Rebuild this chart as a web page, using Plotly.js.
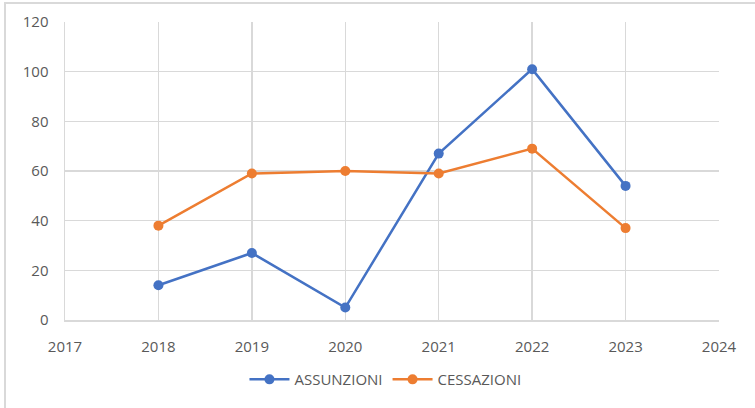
<!DOCTYPE html>
<html>
<head>
<meta charset="utf-8">
<script src="https://cdn.plot.ly/plotly-3.0.1.min.js"></script>
<style>
html,body{margin:0;padding:0;background:#fff;overflow:hidden;}
#frame{position:absolute;left:4px;top:2px;width:760px;height:420px;border-top:2px solid #d9d9d9;border-left:2px solid #d9d9d9;}
#chart{position:absolute;left:0;top:0;width:755px;height:408px;}
</style>
</head>
<body>
<div id="frame"></div>
<div id="chart"></div>
<script>
const years = [2018, 2019, 2020, 2021, 2022, 2023];
const assunzioni = [14, 27, 5, 67, 101, 54];
const cessazioni = [38, 59, 60, 59, 69, 37];
const xTicks = [2017, 2018, 2019, 2020, 2021, 2022, 2023, 2024];
const yTicks = [0, 20, 40, 60, 80, 100, 120];

const traces = [
  {x: years, y: assunzioni, name: 'ASSUNZIONI', type: 'scatter', mode: 'lines+markers',
   line: {color: '#4472C4', width: 2.5}, marker: {color: '#4472C4', size: 10}},
  {x: years, y: cessazioni, name: 'CESSAZIONI', type: 'scatter', mode: 'lines+markers',
   line: {color: '#ED7D31', width: 2.5}, marker: {color: '#ED7D31', size: 10}}
];

const layout = {
  width: 755, height: 408,
  margin: {l: 65, r: 36, t: 22, b: 86},
  paper_bgcolor: 'rgba(0,0,0,0)', plot_bgcolor: '#fff',
  font: {family: 'Open Sans, Noto Sans, sans-serif', size: 15, color: '#595959'},
  showlegend: true,
  legend: {orientation: 'h', x: 0.49, xanchor: 'center', y: -0.2, yanchor: 'middle',
           font: {size: 15, color: '#595959'}, itemwidth: 40, tracegroupgap: 0},
  xaxis: {range: [2017, 2024], tickvals: xTicks, ticktext: xTicks.map(String),
          showgrid: true, gridcolor: '#d9d9d9', gridwidth: 1.5,
          showline: true, linecolor: '#d9d9d9', linewidth: 1.5,
          zeroline: false, ticks: '', ticklen: 0, ticklabelstandoff: 12, fixedrange: true},
  yaxis: {range: [0, 120], tickvals: yTicks, ticktext: yTicks.map(String),
          showgrid: true, gridcolor: '#d9d9d9', gridwidth: 1.5,
          showline: true, linecolor: '#d9d9d9', linewidth: 1.5, mirror: false,
          zeroline: false, ticks: '', ticklen: 0, ticklabelstandoff: 12, fixedrange: true}
};

Plotly.newPlot('chart', traces, layout, {displayModeBar: false, staticPlot: true});
</script>
</body>
</html>
